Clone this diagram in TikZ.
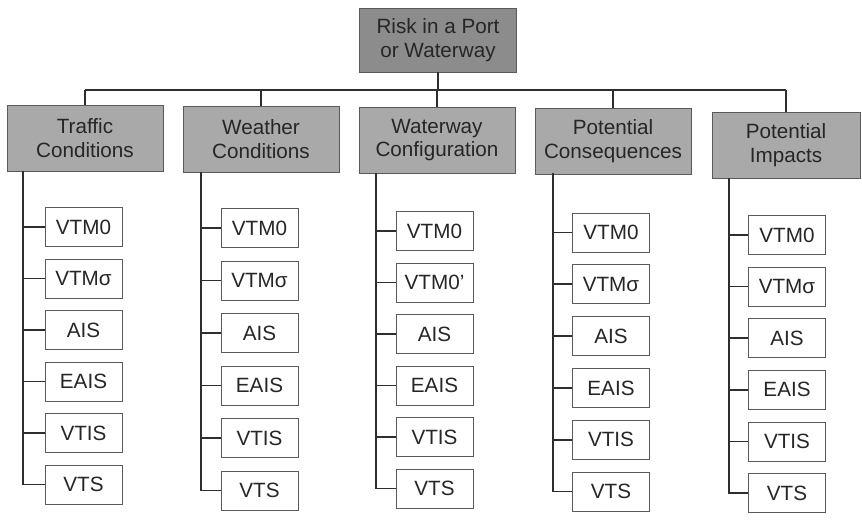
\documentclass[tikz,border=0pt]{standalone}
\usepackage{fontspec}
\setmainfont{Liberation Sans}
\definecolor{rootGray}{HTML}{8C8C8C}
\definecolor{headGray}{HTML}{A9A9A9}
\definecolor{lineGray}{HTML}{2E2E2E}
\definecolor{boxEdge}{HTML}{5A5A5A}
\newcommand{\riskFont}{\fontsize{15.5}{17.6}\selectfont}
\tikzset{
  rootbox/.style={draw=boxEdge, fill=rootGray, line width=0.6pt, align=center, inner sep=0pt,
    minimum width=117.75pt, minimum height=48pt, font=\riskFont, text=black!85},
  headbox/.style={draw=boxEdge, fill=headGray, line width=0.6pt, align=center, inner sep=0pt,
    minimum width=117pt, minimum height=49.5pt, font=\riskFont, text=black!85},
  leafbox/.style={draw=boxEdge, fill=white, line width=0.6pt, inner sep=0pt,
    minimum width=57.75pt, minimum height=29.25pt, font=\riskFont, text=black!85},
  link/.style={draw=lineGray, line width=1.3pt}
}

\begin{document}
\begin{tikzpicture}[x=0.75pt,y=-0.75pt]
\useasboundingbox (0,0) rectangle (862,526);
% root and the five branches
\node[rootbox] (risk) at (438,40) {Risk in a Port\\or Waterway};
\node[headbox] (tc) at (85,138) {Traffic\\Conditions};
\node[headbox] (wc) at (261,139) {Weather\\Conditions};
\node[headbox] (wy) at (437,140) {Waterway\\Configuration};
\node[headbox] (pc) at (613,141) {Potential\\Consequences};
\node[headbox, minimum width=111pt] (pi) at (786,145) {Potential\\Impacts};
\coordinate (bar) at (0,90);
\draw[link] (tc.north |- bar) -- (pi.north |- bar);
\draw[link] (risk.south) -- (risk.south |- bar);
\draw[link] (tc.north) -- (tc.north |- bar);
\draw[link] (wc.north) -- (wc.north |- bar);
\draw[link] (wy.north) -- (wy.north |- bar);
\draw[link] (pc.north) -- (pc.north |- bar);
\draw[link] (pi.north) -- (pi.north |- bar);
% traffic conditions
\node[leafbox] (tc1) at (83.5,227) {VTM0};
\node[leafbox] (tc2) at (83.5,278.5) {VTMσ};
\node[leafbox] (tc3) at (83.5,330) {AIS};
\node[leafbox] (tc4) at (83.5,381.5) {EAIS};
\node[leafbox] (tc5) at (83.5,433) {VTIS};
\node[leafbox] (tc6) at (83.5,484.5) {VTS};
\coordinate (tcs) at (23,171);
\draw[link] (tcs) |- (tc6.west);
\draw[link] (tc1.west) -- (tc1.west -| tcs);
\draw[link] (tc2.west) -- (tc2.west -| tcs);
\draw[link] (tc3.west) -- (tc3.west -| tcs);
\draw[link] (tc4.west) -- (tc4.west -| tcs);
\draw[link] (tc5.west) -- (tc5.west -| tcs);
% weather conditions
\node[leafbox] (wc1) at (259.5,228) {VTM0};
\node[leafbox] (wc2) at (259.5,280.5) {VTMσ};
\node[leafbox] (wc3) at (259.5,333) {AIS};
\node[leafbox] (wc4) at (259.5,385.5) {EAIS};
\node[leafbox] (wc5) at (259.5,438) {VTIS};
\node[leafbox] (wc6) at (259.5,490.5) {VTS};
\coordinate (wcs) at (201,172);
\draw[link] (wcs) |- (wc6.west);
\draw[link] (wc1.west) -- (wc1.west -| wcs);
\draw[link] (wc2.west) -- (wc2.west -| wcs);
\draw[link] (wc3.west) -- (wc3.west -| wcs);
\draw[link] (wc4.west) -- (wc4.west -| wcs);
\draw[link] (wc5.west) -- (wc5.west -| wcs);
% waterway configuration
\node[leafbox] (wy1) at (434.5,231) {VTM0};
\node[leafbox] (wy2) at (434.5,282.5) {VTM0'};
\node[leafbox] (wy3) at (434.5,334) {AIS};
\node[leafbox] (wy4) at (434.5,385.5) {EAIS};
\node[leafbox] (wy5) at (434.5,437) {VTIS};
\node[leafbox] (wy6) at (434.5,488.5) {VTS};
\coordinate (wys) at (376,173);
\draw[link] (wys) |- (wy6.west);
\draw[link] (wy1.west) -- (wy1.west -| wys);
\draw[link] (wy2.west) -- (wy2.west -| wys);
\draw[link] (wy3.west) -- (wy3.west -| wys);
\draw[link] (wy4.west) -- (wy4.west -| wys);
\draw[link] (wy5.west) -- (wy5.west -| wys);
% potential consequences
\node[leafbox] (pc1) at (611,232.5) {VTM0};
\node[leafbox] (pc2) at (611,284.3) {VTMσ};
\node[leafbox] (pc3) at (611,336.1) {AIS};
\node[leafbox] (pc4) at (611,387.9) {EAIS};
\node[leafbox] (pc5) at (611,439.7) {VTIS};
\node[leafbox] (pc6) at (611,491.5) {VTS};
\coordinate (pcs) at (553,173);
\draw[link] (pcs) |- (pc6.west);
\draw[link] (pc1.west) -- (pc1.west -| pcs);
\draw[link] (pc2.west) -- (pc2.west -| pcs);
\draw[link] (pc3.west) -- (pc3.west -| pcs);
\draw[link] (pc4.west) -- (pc4.west -| pcs);
\draw[link] (pc5.west) -- (pc5.west -| pcs);
% potential impacts
\node[leafbox] (pi1) at (787,235) {VTM0};
\node[leafbox] (pi2) at (787,286.6) {VTMσ};
\node[leafbox] (pi3) at (787,338.2) {AIS};
\node[leafbox] (pi4) at (787,389.8) {EAIS};
\node[leafbox] (pi5) at (787,441.4) {VTIS};
\node[leafbox] (pi6) at (787,493) {VTS};
\coordinate (pis) at (729,178);
\draw[link] (pis) |- (pi6.west);
\draw[link] (pi1.west) -- (pi1.west -| pis);
\draw[link] (pi2.west) -- (pi2.west -| pis);
\draw[link] (pi3.west) -- (pi3.west -| pis);
\draw[link] (pi4.west) -- (pi4.west -| pis);
\draw[link] (pi5.west) -- (pi5.west -| pis);
\end{tikzpicture}
\end{document}
